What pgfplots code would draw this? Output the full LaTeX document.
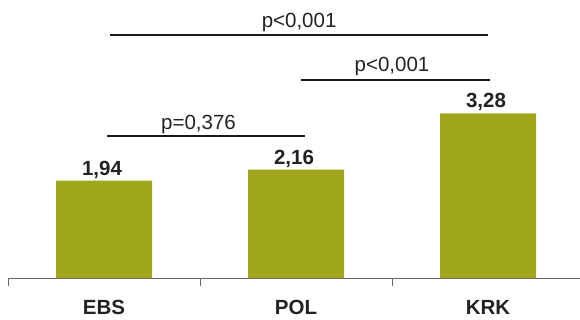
\documentclass[border=0pt]{standalone}
\usepackage{fontspec}
\setmainfont{Liberation Sans}
\usepackage{pgfplots}
\pgfplotsset{compat=1.18}
\definecolor{barolive}{HTML}{A1A71C}
\definecolor{txt}{HTML}{222222}
\begin{document}
\begin{tikzpicture}
\path[use as bounding box] (0,0) rectangle (580bp,320bp);
\begin{axis}[
  at={(8bp,42bp)}, anchor=south west,
  scale only axis,
  width=572bp, height=278bp,
  xmin=-0.5, xmax=2.479,
  ymin=0, ymax=5.538,
  axis y line=none,
  axis x line*=bottom,
  x axis line style={-, draw=black!60, line width=0.8bp},
  xtick={0,1,2},
  xticklabels={EBS,POL,KRK},
  major tick length=0pt,
  minor xtick={-0.5,0.5,1.5},
  minor tick length=8bp,
  tick align=outside,
  minor tick style={draw=black!60, line width=0.8bp},
  xticklabel style={anchor=base, yshift=-36bp, font=\fontsize{20.5bp}{24bp}\selectfont\bfseries, text=txt},
  clip=false,
  ybar, bar width=96bp,
  point meta=explicit symbolic,
  nodes near coords,
  nodes near coords style={anchor=base, yshift=5.5bp, xshift=-2bp, font=\fontsize{20.5bp}{24bp}\selectfont\bfseries, text=txt, inner sep=0pt},
]
\addplot[fill=barolive, draw=none] coordinates {(0,1.94) [1,94] (1,2.16) [2,16] (2,3.28) [3,28]};
\draw[line width=2.2bp, black!90] (axis cs:0.017,2.829) -- (axis cs:1.047,2.829);
\draw[line width=2.2bp, black!90] (axis cs:1.024,3.950) -- (axis cs:2.010,3.950);
\draw[line width=2.2bp, black!90] (axis cs:0.031,4.835) -- (axis cs:2.000,4.835);
\node[anchor=base, inner sep=0pt, text=txt, font=\fontsize{20.5bp}{24bp}\selectfont] at (axis cs:0.492,2.958) {p=0,376};
\node[anchor=base, inner sep=0pt, text=txt, font=\fontsize{20.5bp}{24bp}\selectfont] at (axis cs:1.5,4.104) {p<0,001};
\node[anchor=base, inner sep=0pt, text=txt, font=\fontsize{20.5bp}{24bp}\selectfont] at (axis cs:1.016,5.0) {p<0,001};
\end{axis}
\end{tikzpicture}
\end{document}
